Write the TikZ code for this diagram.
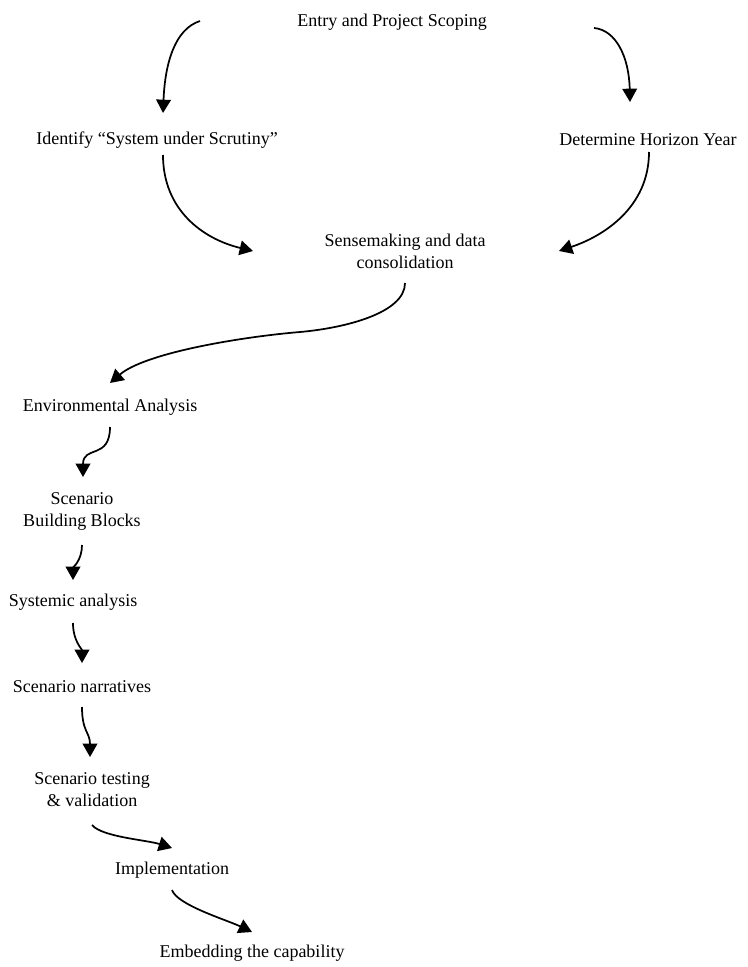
\documentclass[tikz,border=0pt]{standalone}
\usepackage{fontspec}
\setmainfont{Liberation Serif}
\usetikzlibrary{arrows.meta}

\begin{document}
\begin{tikzpicture}[x=0.75pt, y=-0.75pt,
    stage/.style={inner sep=0pt, align=center,
      font=\fontsize{13.5pt}{16.5pt}\selectfont},
    flow/.style={line width=1.3pt,
      -{Triangle[length=10pt, width=11pt]}}]
  % page frame
  \useasboundingbox (0,0) rectangle (748,967);

  % stages of the process
  \node[stage] (entry)    at (392,22)  {Entry and Project Scoping};
  \node[stage] (ident)    at (157,140) {Identify ``System under Scrutiny''};
  \node[stage] (horiz)    at (648,140) {Determine Horizon Year};
  \node[stage] (sense)    at (405,251) {Sensemaking and data\\consolidation};
  \node[stage] (env)      at (110,407) {Environmental Analysis};
  \node[stage] (blocks)   at (82,511)  {Scenario\\Building Blocks};
  \node[stage] (systemic) at (73,602)  {Systemic analysis};
  \node[stage] (narr)     at (82,687)  {Scenario narratives};
  \node[stage] (testing)  at (92,790)  {Scenario testing\\\& validation};
  \node[stage] (impl)     at (172,870) {Implementation};
  \node[stage] (embed)    at (252,953) {Embedding the capability};

  % curved flow arrows between the stages
  \draw[flow] ([shift={(-192,-1)}]entry.center)
      .. controls +(-25,8) and +(2,-50) .. ([shift={(6,-27)}]ident.center);
  \draw[flow] ([shift={(202,6)}]entry.center)
      .. controls +(22,2) and +(-1,-45) .. ([shift={(-18,-38)}]horiz.center);
  \draw[flow] ([shift={(6,15)}]ident.center)
      .. controls +(0,55) and +(-50,-12) .. ([shift={(-152,0)}]sense.center);
  \draw[flow] ([shift={(1,12)}]horiz.center)
      .. controls +(0,55) and +(45,-15) .. ([shift={(154,0)}]sense.center);
  \draw[flow] ([shift={(0,32)}]sense.center)
      .. controls +(0,30) and +(45,-4) .. ++(-105,49)
      .. controls +(-60,5) and +(35,-30) .. ([shift={(0,-24)}]env.center);
  \draw[flow] ([shift={(0,20)}]env.center)
      .. controls +(0,33) and +(0,-32) .. ([shift={(1,-34)}]blocks.center);
  \draw[flow] ([shift={(0,34)}]blocks.center)
      .. controls +(0,15) and +(0,-12) .. ([shift={(0,-22)}]systemic.center);
  \draw[flow] ([shift={(0,21)}]systemic.center)
      .. controls +(0,18) and +(0,-14) .. ([shift={(0,-24)}]narr.center);
  \draw[flow] ([shift={(0,20)}]narr.center)
      .. controls +(0,25) and +(0,-25) .. ([shift={(-2,-33)}]testing.center);
  \draw[flow] ([shift={(0,35)}]testing.center)
      .. controls +(10,12) and +(-25,-8) .. ([shift={(0,-22)}]impl.center);
  \draw[flow] ([shift={(0,20)}]impl.center)
      .. controls +(5,15) and +(-25,-12) .. ([shift={(0,-21)}]embed.center);
\end{tikzpicture}
\end{document}
